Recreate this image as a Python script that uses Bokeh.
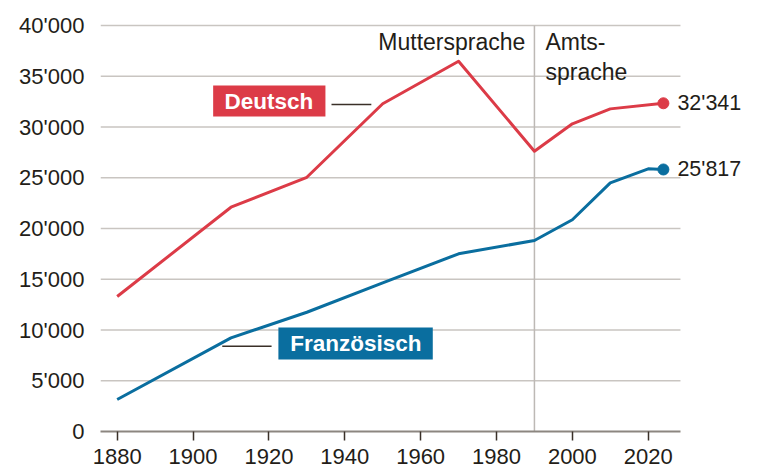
from bokeh.plotting import figure
from bokeh.models import Range1d, FixedTicker, Label
from bokeh.core.properties import value
from bokeh.embed import file_html
from bokeh.resources import INLINE

# ---- data ----
years_de = [1880, 1910, 1930, 1950, 1970, 1990, 2000, 2010, 2024]
deutsch = [13300, 22100, 25050, 32290, 36480, 27620, 30320, 31790, 32341]

years_fr = [1880, 1910, 1930, 1950, 1970, 1990, 2000, 2010, 2020, 2024]
franz = [3150, 9230, 11750, 14650, 17510, 18820, 20860, 24500, 25880, 25817]

x_ticks = [1880, 1900, 1920, 1940, 1960, 1980, 2000, 2020]
y_ticks = [0, 5000, 10000, 15000, 20000, 25000, 30000, 35000, 40000]
y_tick_labels = ["0", "5'000", "10'000", "15'000", "20'000", "25'000",
                 "30'000", "35'000", "40'000"]
end_labels = ["32'341", "25'817"]

RED = "#DC3B47"
BLUE = "#0A6E9F"
TXT = "#231d18"
FONT = "Liberation Sans"

X0, X1 = 1875.6, 2028.5   # visible chart extent (axis / grid)

p = figure(width=766, height=474, output_backend="svg", toolbar_location=None,
           x_range=Range1d(X0, 2049.6), y_range=Range1d(0, 40300),
           min_border_left=100, min_border_right=6, min_border_top=22,
           min_border_bottom=43)
p.outline_line_color = None
p.background_fill_color = "white"
p.border_fill_color = "white"

# grid (drawn manually so it stops at the chart's right edge)
p.xgrid.grid_line_color = None
p.ygrid.grid_line_color = None
p.segment(x0=[X0] * len(y_ticks[1:]), y0=y_ticks[1:], x1=[X1] * len(y_ticks[1:]),
          y1=y_ticks[1:], line_color="#c9c5c1", line_width=1.5)

# y axis
p.yaxis.ticker = FixedTicker(ticks=y_ticks)
p.yaxis.major_label_overrides = {t: l for t, l in zip(y_ticks, y_tick_labels)}
p.yaxis.axis_line_color = None
p.yaxis.major_tick_line_color = None
p.yaxis.minor_tick_line_color = None
p.yaxis.major_label_standoff = 10
p.yaxis.major_label_text_font = FONT
p.yaxis.major_label_text_font_size = "22px"
p.yaxis.major_label_text_color = TXT

# x axis
p.xaxis.ticker = FixedTicker(ticks=x_ticks)
p.xaxis.bounds = (X0, X1)
p.xaxis.axis_line_color = "#8c8680"
p.xaxis.axis_line_width = 2
p.xaxis.major_tick_line_color = "#3a3028"
p.xaxis.major_tick_line_width = 1.5
p.xaxis.major_tick_out = 9
p.xaxis.major_tick_in = 0
p.xaxis.minor_tick_line_color = None
p.xaxis.major_label_standoff = 8
p.xaxis.major_label_text_font = FONT
p.xaxis.major_label_text_font_size = "22px"
p.xaxis.major_label_text_color = TXT

# vertical divider at 1990
p.segment(x0=[1990], y0=[0], x1=[1990], y1=[40000], line_color="#bdb9b5", line_width=1.5)

# lines
p.line(years_de, deutsch, line_color=RED, line_width=3, line_join="round")
p.line(years_fr, franz, line_color=BLUE, line_width=3, line_join="round")
p.scatter([years_de[-1]], [deutsch[-1]], size=11, color=RED)
p.scatter([years_fr[-1]], [franz[-1]], size=11, color=BLUE)

# end value labels
for yv, txt in zip([deutsch[-1], franz[-1]], end_labels):
    p.add_layout(Label(x=2024, y=yv, x_offset=14, text=txt, text_baseline="middle",
                       text_align="left", text_font=FONT, text_font_size="21.5px",
                       text_color=TXT))

# series label boxes
p.quad(left=[1905.3], right=[1934.9], bottom=[31030], top=[34090],
       fill_color=RED, line_color=None)
p.quad(left=[1922.5], right=[1963.2], bottom=[7090], top=[10250],
       fill_color=BLUE, line_color=None)
p.text(x=[1920.0], y=[32560], text=["Deutsch"], text_align="center",
       text_baseline="middle", text_color="white", text_font=value(FONT),
       text_font_style="bold", text_font_size="22.5px")
p.text(x=[1942.9], y=[8670], text=["Französisch"], text_align="center",
       text_baseline="middle", text_color="white", text_font=value(FONT),
       text_font_style="bold", text_font_size="22.5px")
p.segment(x0=[1936.5], y0=[32220], x1=[1947.0], y1=[32220], line_color="#3a3028", line_width=1.5)
p.segment(x0=[1907.7], y0=[8400], x1=[1920.7], y1=[8400], line_color="#3a3028", line_width=1.5)

# annotations
p.text(x=[1987.6], y=[38330], text=["Muttersprache"], text_align="right",
       text_baseline="middle", text_color=TXT, text_font=value(FONT), text_font_size="23px")
p.text(x=[1992.9, 1992.9], y=[38330, 35400], text=["Amts-", "sprache"], text_align="left",
       text_baseline="middle", text_color=TXT, text_font=value(FONT), text_font_size="23px")

open("out.html", "w").write(file_html(p, INLINE))
